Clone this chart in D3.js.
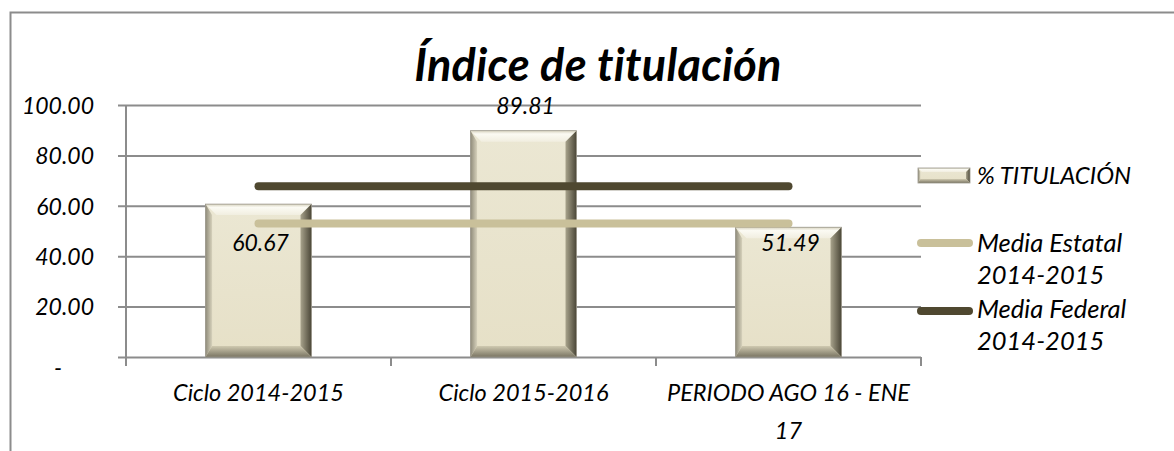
<!DOCTYPE html>
<html>
<head>
<meta charset="utf-8">
<script src="https://cdn.jsdelivr.net/npm/d3@7"></script>
<style>
  body { margin: 0; background: #fff; }
  text { font-family: Lato, "Open Sans", sans-serif; font-style: italic; fill: #000;
         font-variant-ligatures: none; font-feature-settings: "liga" 0, "dlig" 0, "clig" 0; }
</style>
</head>
<body>
<svg id="chart" width="1174" height="451"></svg>
<script>
// data
let categories = ["Ciclo 2014-2015", "Ciclo 2015-2016", "PERIODO AGO 16 - ENE 17"];
let titulacion = [60.67, 89.81, 51.49];
let mediaEstatal = 53.0;
let mediaFederal = 67.8;
let yTicks = [0, 20, 40, 60, 80, 100];
let seriesNames = ["% TITULACIÓN", "Media Estatal 2014-2015", "Media Federal 2014-2015"];

let svg = d3.select("#chart");
let plotL = 126, plotR = 921, plotT = 105, plotB = 357;

let defs = svg.append("defs");
function grad(id, x2, y2, stops) {
    let g = defs.append("linearGradient").attr("id", id)
        .attr("x1", 0).attr("y1", 0).attr("x2", x2).attr("y2", y2);
    stops.forEach(function (s) {
        g.append("stop").attr("offset", s[0]).attr("stop-color", s[1]);
    });
}
grad("face", 0, 1, [[0, "#ebe7d3"], [1, "#e6e0c7"]]);
grad("bevTop", 0, 1, [[0, "#d8d4c0"], [0.3, "#fbfaf3"], [1, "#f1eee0"]]);
grad("bevLeft", 1, 0, [[0, "#8f8b7a"], [1, "#d6d1bb"]]);
grad("bevRight", 1, 0, [[0, "#a8a38c"], [1, "#4a4637"]]);
grad("bevBottom", 0, 1, [[0, "#cfc9b0"], [1, "#7a7563"]]);

// outer frame
svg.append("rect").attr("x", 10.5).attr("y", 12.5).attr("width", 1200).attr("height", 500)
    .attr("fill", "none").attr("stroke", "#8c8c8c").attr("stroke-width", 2);

let x = d3.scaleBand().domain(categories).range([plotL, plotR]).paddingInner(0.6).paddingOuter(0.3);
let y = d3.scaleLinear().domain([0, 100]).range([plotB, plotT]);

// grid lines + y axis
let yAxis = d3.axisLeft(y).tickValues(yTicks)
    .tickSize(-(plotR - plotL + 8))
    .tickFormat(function (d) { return d === 0 ? "-" : d3.format(".2f")(d); });
let gy = svg.append("g").attr("transform", "translate(" + (plotL - 8) + ",0)").call(yAxis);
gy.select(".domain").remove();
gy.selectAll(".tick line").attr("stroke", "#8c8c8c").attr("stroke-width", 2);
gy.selectAll(".tick text").attr("x", -24).attr("dy", "0.36em")
    .style("font-size", "23px").attr("fill", "#000");
gy.selectAll(".tick").filter(function (d) { return d === 0; }).select("text").attr("x", -56).attr("dy", "0.8em");

svg.append("line").attr("x1", plotL).attr("x2", plotL).attr("y1", plotT).attr("y2", plotB)
    .attr("stroke", "#8c8c8c").attr("stroke-width", 2);

// x axis ticks at category boundaries
let bounds = d3.range(categories.length + 1).map(function (i) { return plotL + i * x.step(); });
svg.selectAll(".xtick").data(bounds).enter().append("line")
    .attr("x1", function (d) { return d; }).attr("x2", function (d) { return d; })
    .attr("y1", plotB).attr("y2", plotB + 9)
    .attr("stroke", "#8c8c8c").attr("stroke-width", 2);

// beveled bar
function bevelBar(g, bx, by, w, h, b) {
    g.append("rect").attr("x", bx).attr("y", by).attr("width", w).attr("height", h).attr("fill", "url(#face)");
    let pts = [
        [[bx, by], [bx + w, by], [bx + w - b, by + b], [bx + b, by + b], "url(#bevTop)"],
        [[bx, by], [bx + b * 0.6, by + b], [bx + b * 0.6, by + h - b], [bx, by + h], "url(#bevLeft)"],
        [[bx + w, by], [bx + w, by + h], [bx + w - b, by + h - b], [bx + w - b, by + b], "url(#bevRight)"],
        [[bx, by + h], [bx + b * 0.6, by + h - b], [bx + w - b, by + h - b], [bx + w, by + h], "url(#bevBottom)"]
    ];
    pts.forEach(function (p) {
        g.append("polygon").attr("points", p.slice(0, 4).map(function (q) { return q.join(","); }).join(" "))
            .attr("fill", p[4]);
    });
    g.append("rect").attr("x", bx).attr("y", by).attr("width", w).attr("height", h)
        .attr("fill", "none").attr("stroke", "#9a968a").attr("stroke-width", 0.8);
}

let bars = svg.append("g");
categories.forEach(function (c, i) {
    let v = titulacion[i];
    bevelBar(bars, x(c), y(v), x.bandwidth(), plotB - y(v), 11);
});

// mean lines from first to last category center
let xc = function (c) { return x(c) + x.bandwidth() / 2; };
let first = categories[0], last = categories[categories.length - 1];
[[mediaEstatal, "#c9c09a"], [mediaFederal, "#4f4830"]].forEach(function (m) {
    svg.append("line").attr("x1", xc(first)).attr("x2", xc(last))
        .attr("y1", y(m[0])).attr("y2", y(m[0]))
        .attr("stroke", m[1]).attr("stroke-width", 8).attr("stroke-linecap", "round");
});

// data labels
let labelY = [251, 114, 251];
svg.selectAll(".dlabel").data(titulacion).enter().append("text")
    .attr("x", function (d, i) { return xc(categories[i]) + 2; })
    .attr("y", function (d, i) { return labelY[i]; })
    .attr("text-anchor", "middle").style("font-size", "23px")
    .text(function (d) { return d3.format(".2f")(d); });

// category labels
let catLines = [["Ciclo 2014-2015"], ["Ciclo 2015-2016"], ["PERIODO AGO 16 - ENE", "17"]];
categories.forEach(function (c, i) {
    let t = svg.append("text").attr("x", xc(c)).attr("y", 401)
        .attr("text-anchor", "middle").style("font-size", "23.5px");
    catLines[i].forEach(function (s, j) {
        t.append("tspan").attr("x", xc(c)).attr("dy", j === 0 ? 0 : 38).text(s);
    });
});

// title (letter-spacing keeps the "ti" ligature off)
svg.append("text").attr("x", 598).attr("y", 81).attr("text-anchor", "middle")
    .style("font-size", "45px").style("font-weight", "bold").style("letter-spacing", "0.3px")
    .text("Índice de titulación");

// legend
let lg = svg.append("g");
bevelBar(lg, 918, 168, 52, 15, 4);
lg.append("text").attr("x", 977).attr("y", 184).style("font-size", "24px").text(seriesNames[0]);
let legLines = [[243, "#c9c09a", 252], [311, "#4f4830", 318]];
legLines.forEach(function (l, i) {
    lg.append("line").attr("x1", 921).attr("x2", 969).attr("y1", l[0]).attr("y2", l[0])
        .attr("stroke", l[1]).attr("stroke-width", 8).attr("stroke-linecap", "round");
    let words = seriesNames[i + 1].split(" ");
    let t = lg.append("text").attr("x", 977).attr("y", l[2]).style("font-size", "25.5px");
    t.append("tspan").attr("x", 977).text(words[0] + " " + words[1]);
    t.append("tspan").attr("x", 977).attr("dy", 32).text(words[2]);
});
</script>
</body>
</html>
